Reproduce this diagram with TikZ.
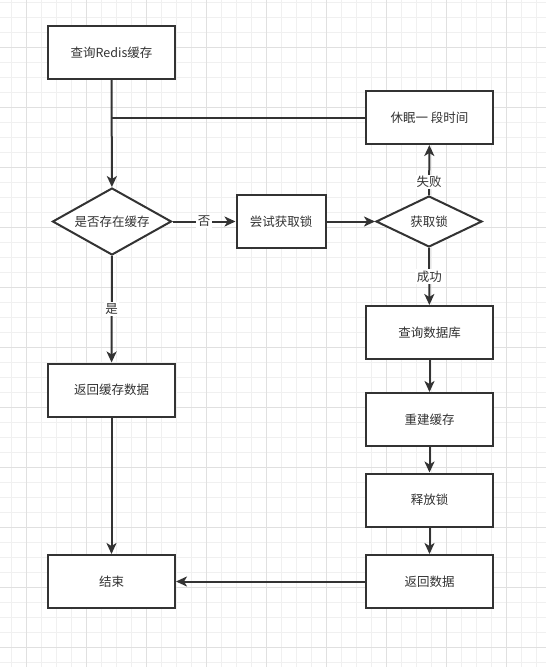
\documentclass[tikz,border=0pt]{standalone}
\usepackage{fontspec}
\newfontfamily\cjk{Noto Sans CJK SC}
\usetikzlibrary{arrows.meta,shapes.geometric,positioning,calc}

\definecolor{ink}{HTML}{333333}
\definecolor{gridminor}{HTML}{F0F0F0}
\definecolor{gridmajor}{HTML}{E0E0E0}

\tikzset{
    box/.style={draw=ink,line width=2pt,fill=white,rectangle,minimum width=127pt,minimum height=53pt,inner sep=0pt,font=\cjk\fontsize{12.5}{15}\selectfont,text=ink},
    decision/.style={draw=ink,line width=2pt,fill=white,diamond,inner sep=0pt,font=\cjk\fontsize{12.5}{15}\selectfont,text=ink},
    flow/.style={draw=ink,line width=2pt,-{Stealth[length=11pt,width=10pt,inset=3pt]}},
    plain/.style={draw=ink,line width=2pt},
    lbl/.style={fill=white,inner sep=1.5pt,font=\cjk\fontsize{12.5}{15}\selectfont,text=ink}
}

\begin{document}
\begin{tikzpicture}[x=1pt,y=-1pt]
        \useasboundingbox (0,0) rectangle (546,667);

        % background grid
        \foreach \gx in {11.7,26.7,...,546} \draw[gridminor,line width=1pt] (\gx,0) -- (\gx,667);
        \foreach \gy in {2.3,17.3,...,667} \draw[gridminor,line width=1pt] (0,\gy) -- (546,\gy);
        \foreach \gx in {26.7,86.7,...,546} \draw[gridmajor,line width=1pt] (\gx,0) -- (\gx,667);
        \foreach \gy in {47.3,107.3,...,667} \draw[gridmajor,line width=1pt] (0,\gy) -- (546,\gy);

        % left side boxes
        \node[box] (query) at (111.5,52.5) {查询Redis缓存};
        \node[decision,minimum width=119pt,minimum height=67pt,aspect=1.75] (cached) at (112,221.5) {是否存在缓存};
        \node[box] (retCache) at (111.5,390) {返回缓存数据};
        \node[box] (finish) at (111.5,581.5) {结束};

        % middle box
        \node[box,minimum width=89pt] (tryLock) at (281,221.5) {尝试获取锁};

        % right side boxes
        \node[box] (sleep) at (429.5,117.5) {休眠一 段时间};
        \node[decision,minimum width=106pt,minimum height=51pt,aspect=2] (getLock) at (429,221.5) {获取锁};
        \node[box] (queryDb) at (429.5,332.5) {查询数据库};
        \node[box] (rebuild) at (429.5,419.5) {重建缓存};
        \node[box] (release) at (429.5,500) {释放锁};
        \node[box] (retData) at (429.5,581.5) {返回数据};

        % join point of the retry line
        \coordinate (join) at (query.south |- sleep.west);

        % left side arcs
        \draw[flow] (query) -- (cached);
        \draw[plain] (sleep) -- (join);
        \draw[flow] (cached) -- node[lbl,pos=0.5] {是} (retCache);
        \draw[flow] (retCache) -- (finish);

        % middle arcs
        \draw[flow] (cached) -- node[lbl,pos=0.5] {否} (tryLock);
        \draw[flow] (tryLock) -- (getLock);

        % right side arcs
        \draw[flow] (getLock) -- node[lbl,pos=0.26] {失败} (sleep);
        \draw[flow] (getLock) -- node[lbl,pos=0.5] {成功} (queryDb);
        \draw[flow] (queryDb) -- (rebuild);
        \draw[flow] (rebuild) -- (release);
        \draw[flow] (release) -- (retData);
        \draw[flow] (retData) -- (finish);

    \end{tikzpicture}
\end{document}
